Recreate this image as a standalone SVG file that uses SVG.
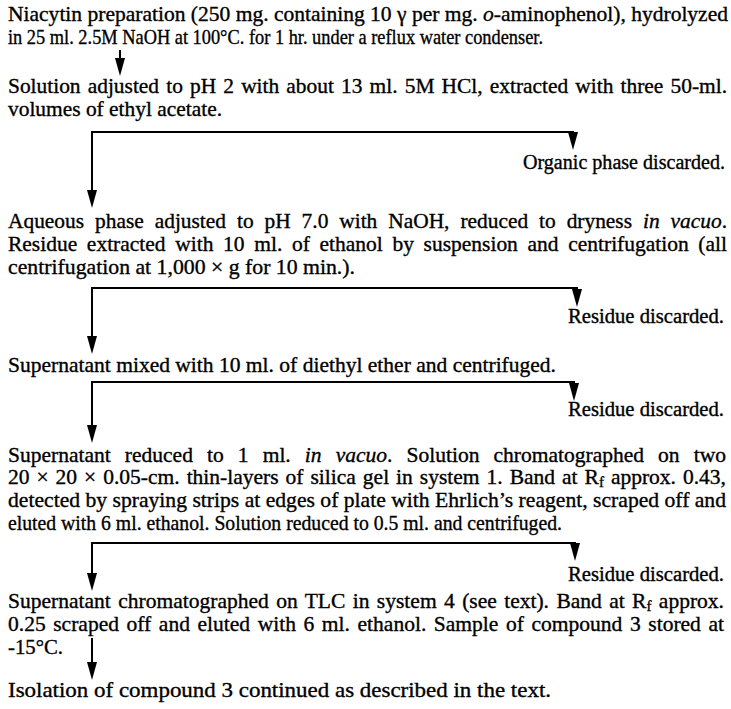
<svg xmlns="http://www.w3.org/2000/svg" width="731" height="709" viewBox="0 0 731 709">
<style>
text{font-family:"Liberation Serif","Times New Roman",serif;font-size:21.5px;fill:#000;stroke:#000;stroke-width:0.35}
.c{fill:none;stroke:#000;stroke-width:2}
.i{font-style:italic}
.d{font-size:20.5px}
</style>
<defs>
<marker id="ah" viewBox="0 0 18 10" refX="8" refY="5" markerWidth="18" markerHeight="10" markerUnits="userSpaceOnUse" orient="auto">
<path d="M0,0 L18,5 L0,10 z" fill="#000"/>
</marker>
</defs>
<rect width="731" height="709" fill="#fff"/>
<g id="connectors">
<path class="c" d="M120,50 V66" marker-end="url(#ah)"/>
<path class="c" d="M92,132 H573 V140" marker-end="url(#ah)"/>
<path class="c" d="M92,131 V198" marker-end="url(#ah)"/>
<path class="c" d="M92,288 H577 V297" marker-end="url(#ah)"/>
<path class="c" d="M92,287 V344" marker-end="url(#ah)"/>
<path class="c" d="M92,382 H574 V391" marker-end="url(#ah)"/>
<path class="c" d="M92,381 V433" marker-end="url(#ah)"/>
<path class="c" d="M92,543 H575 V551" marker-end="url(#ah)"/>
<path class="c" d="M92,542 V581" marker-end="url(#ah)"/>
<path class="c" d="M92,638 V670" marker-end="url(#ah)"/>
</g>
<g id="n1">
<text x="8" y="21" textLength="720" lengthAdjust="spacingAndGlyphs">Niacytin preparation (250 mg. containing 10 γ per mg. <tspan class="i">o</tspan>-aminophenol), hydrolyzed</text>
<text x="8" y="44" textLength="535" lengthAdjust="spacingAndGlyphs">in 25 ml. 2.5M NaOH at 100°C. for 1 hr. under a reflux water condenser.</text>
</g>
<g id="n2">
<text x="8" y="93" textLength="719" lengthAdjust="spacingAndGlyphs" word-spacing="1.8">Solution adjusted to pH 2 with about 13 ml. 5M HCl, extracted with three 50-ml.</text>
<text x="8" y="116" textLength="214" lengthAdjust="spacingAndGlyphs">volumes of ethyl acetate.</text>
</g>
<g id="d1"><text class="d" x="523" y="169" textLength="202" lengthAdjust="spacingAndGlyphs">Organic phase discarded.</text></g>
<g id="n3">
<text x="8" y="228" textLength="719" lengthAdjust="spacingAndGlyphs" word-spacing="5.6">Aqueous phase adjusted to pH 7.0 with NaOH, reduced to dryness <tspan class="i">in vacuo</tspan>.</text>
<text x="8" y="251" textLength="719" lengthAdjust="spacingAndGlyphs" word-spacing="4.3">Residue extracted with 10 ml. of ethanol by suspension and centrifugation (all</text>
<text x="8" y="274" textLength="347" lengthAdjust="spacingAndGlyphs">centrifugation at 1,000 × g for 10 min.).</text>
</g>
<g id="d2"><text class="d" x="568" y="323" textLength="156" lengthAdjust="spacingAndGlyphs">Residue discarded.</text></g>
<g id="n4">
<text x="8" y="372" textLength="548" lengthAdjust="spacingAndGlyphs">Supernatant mixed with 10 ml. of diethyl ether and centrifuged.</text>
</g>
<g id="d3"><text class="d" x="568" y="416" textLength="156" lengthAdjust="spacingAndGlyphs">Residue discarded.</text></g>
<g id="n5">
<text x="8" y="462" textLength="718" lengthAdjust="spacingAndGlyphs" word-spacing="8.7">Supernatant reduced to 1 ml. <tspan class="i">in vacuo</tspan>. Solution chromatographed on two</text>
<text x="8" y="484" textLength="718" lengthAdjust="spacingAndGlyphs" word-spacing="1.6">20 × 20 × 0.05-cm. thin-layers of silica gel in system 1. Band at R<tspan font-size="15" dy="3">f</tspan><tspan dy="-3"> approx. 0.43,</tspan></text>
<text x="8" y="507" textLength="718" lengthAdjust="spacingAndGlyphs">detected by spraying strips at edges of plate with Ehrlich’s reagent, scraped off and</text>
<text x="8" y="530" textLength="554" lengthAdjust="spacingAndGlyphs">eluted with 6 ml. ethanol. Solution reduced to 0.5 ml. and centrifuged.</text>
</g>
<g id="d4"><text class="d" x="568" y="581" textLength="156" lengthAdjust="spacingAndGlyphs">Residue discarded.</text></g>
<g id="n6">
<text x="8" y="608" textLength="716" lengthAdjust="spacingAndGlyphs" word-spacing="2">Supernatant chromatographed on TLC in system 4 (see text). Band at R<tspan font-size="15" dy="3">f</tspan><tspan dy="-3"> approx.</tspan></text>
<text x="8" y="631" textLength="716" lengthAdjust="spacingAndGlyphs" word-spacing="2.2">0.25 scraped off and eluted with 6 ml. ethanol. Sample of compound 3 stored at</text>
<text x="8" y="654" textLength="55" lengthAdjust="spacingAndGlyphs">-15°C.</text>
</g>
<g id="n7">
<text x="8" y="697" textLength="543" lengthAdjust="spacingAndGlyphs">Isolation of compound 3 continued as described in the text.</text>
</g>
</svg>
